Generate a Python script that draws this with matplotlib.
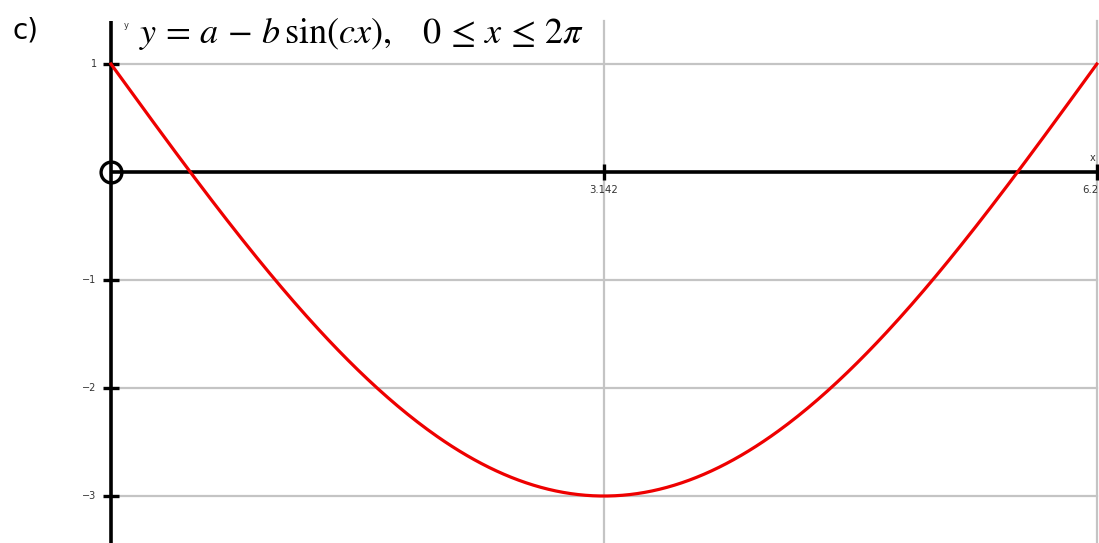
import numpy as np
import matplotlib.pyplot as plt

plt.rcParams["mathtext.fontset"] = "stix"

# y = a - b*sin(c*x) on 0 <= x <= 2*pi
a, b, c = 1.0, 4.0, 0.5
x_range = (0.0, 2 * np.pi)

y_ticks = [1, -1, -2, -3]
y_tick_labels = ["1", "\u22121", "\u22122", "\u22123"]
x_ticks = [np.pi, 2 * np.pi]
x_tick_labels = ["3.142", "6.2"]

grid_color = "#c4c4c4"
x_left, x_right = -0.7075, 6.297
y_bottom, y_top = -3.435, 1.593
grid_top = 1.40

fig = plt.figure(figsize=(10.99, 5.43), dpi=100)
ax = fig.add_axes([0, 0, 1, 1])
ax.set_xlim(x_left, x_right)
ax.set_ylim(y_bottom, y_top)
ax.axis("off")

# grid
for yt in y_ticks:
    ax.plot([0, x_range[1]], [yt, yt], color=grid_color, lw=1.6, zorder=1)
for xt in x_ticks:
    ax.plot([xt, xt], [y_bottom, grid_top], color=grid_color, lw=1.6, zorder=1)

# axes
ax.plot([0, x_range[1]], [0, 0], color="black", lw=2.6, zorder=3, solid_capstyle="butt")
ax.plot([0, 0], [y_bottom, grid_top], color="black", lw=2.6, zorder=3, solid_capstyle="butt")
ax.plot(0, 0, "o", ms=15, mfc="none", mec="black", mew=2.4, zorder=4)

# ticks
dx = 8 / 156.8
dy = 8 / 108
for yt, lab in zip(y_ticks, y_tick_labels):
    ax.plot([-dx, dx], [yt, yt], color="black", lw=2.4, zorder=3, solid_capstyle="butt")
    ax.text(-dx - 0.04, yt, lab, ha="right", va="center", fontsize=7, color="#333333")
ax.plot([np.pi] * 2, [-dy, dy], color="black", lw=2.4, zorder=3, solid_capstyle="butt")
ax.plot([2 * np.pi] * 2, [-dy, dy], color="black", lw=2.4, zorder=3, solid_capstyle="butt")
ax.text(np.pi, -0.17, x_tick_labels[0], ha="center", va="center", fontsize=7.3,
        color="#333333")
ax.text(x_right - 0.005, -0.17, x_tick_labels[1], ha="right", va="center", fontsize=7.3,
        color="#333333")
ax.text(2 * np.pi - 0.03, 0.13, "x", ha="center", va="center", fontsize=7, color="#333333")
ax.text(0.1, 1.36, "y", ha="center", va="center", fontsize=6, color="#333333")

# curve
xs = np.linspace(x_range[0], x_range[1], 400)
ys = a - b * np.sin(c * xs)
ax.plot(xs, ys, color="#ee0000", lw=2.3, zorder=5)

ax.text(0.18, 1.28,
        r"$y\,=\,a\,-\,b\,\sin(cx),\quad 0\,\leq\,x\,\leq\,2\pi$",
        ha="left", va="center", fontsize=26, color="black")
fig.text(12 / 1099, 1 - 30 / 543, "c)", ha="left", va="center", fontsize=20,
         color="black")

fig.savefig("out.png", dpi=100)
